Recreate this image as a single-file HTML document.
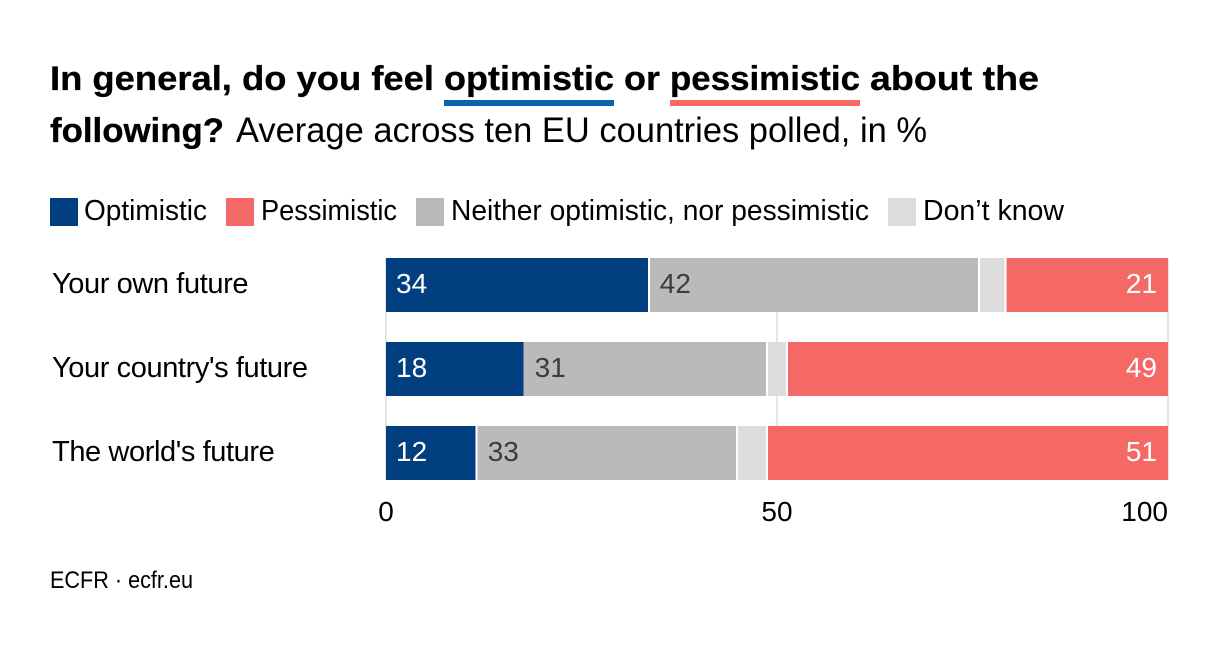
<!DOCTYPE html>
<html lang="en">
<head>
<meta charset="utf-8">
<title>ECFR chart: optimistic or pessimistic about the future</title>
<style>
  html, body { margin: 0; padding: 0; background: #fff; width: 1220px; height: 646px; overflow: hidden; }
  svg { display: block; font-family: "Liberation Sans", sans-serif; }
  text { fill: #000; }
  .bold { font-weight: 700; font-size: 34px; stroke: #000; stroke-width: .3px; }
  .sub { font-size: 35px; }
  .leg { font-size: 29px; }
  .cat { font-size: 29px; }
  .val { font-size: 28px; }
  .tick { font-size: 28px; }
  .foot { font-size: 24px; }
</style>
</head>
<body>
<svg id="chart" width="1220" height="646" viewBox="0 0 1220 646" xmlns="http://www.w3.org/2000/svg">
  <rect width="1220" height="646" fill="#fff"/>
  <g>
    <text class="bold" x="50" y="90" textLength="384" lengthAdjust="spacingAndGlyphs">In general, do you feel</text>
    <text class="bold" x="444" y="90" textLength="170" lengthAdjust="spacingAndGlyphs">optimistic</text>
    <rect x="444" y="100" width="170" height="6" fill="#0a64ad"/>
    <text class="bold" x="624" y="90" textLength="36" lengthAdjust="spacingAndGlyphs">or</text>
    <text class="bold" x="670" y="90" textLength="190" lengthAdjust="spacingAndGlyphs">pessimistic</text>
    <rect x="670" y="100" width="190" height="6" fill="#f46866"/>
    <text class="bold" x="870" y="90" textLength="169" lengthAdjust="spacingAndGlyphs">about the</text>
    <text class="bold" x="50" y="142" textLength="174" lengthAdjust="spacingAndGlyphs">following?</text>
    <text class="sub" x="236" y="142" textLength="691" lengthAdjust="spacingAndGlyphs">Average across ten EU countries polled, in %</text>
  </g>
  <g>
    <g>
      <rect x="50" y="198" width="28" height="28" fill="#013f80"/>
      <text class="leg" x="84" y="220" textLength="123" lengthAdjust="spacingAndGlyphs">Optimistic</text>
    </g>
    <g>
      <rect x="226" y="198" width="28" height="28" fill="#f46866"/>
      <text class="leg" x="261" y="220" textLength="136" lengthAdjust="spacingAndGlyphs">Pessimistic</text>
    </g>
    <g>
      <rect x="416" y="198" width="28" height="28" fill="#bababa"/>
      <text class="leg" x="451" y="220" textLength="418" lengthAdjust="spacingAndGlyphs">Neither optimistic, nor pessimistic</text>
    </g>
    <g>
      <rect x="888" y="198" width="28" height="28" fill="#dcdcdc"/>
      <text class="leg" x="923" y="220" textLength="141" lengthAdjust="spacingAndGlyphs">Don’t know</text>
    </g>
  </g>
  <g id="grid"></g>
  <g id="rows"></g>
  <g id="ticks"></g>
  <text class="foot" x="50" y="588" textLength="143" lengthAdjust="spacingAndGlyphs">ECFR · ecfr.eu</text>
</svg>
<script>
const categories = ["Your own future", "Your country's future", "The world's future"];
const optimistic = [33.6, 17.6, 11.6];
const neither = [42.2, 31.1, 33.3];
const dontKnow = [3.4, 2.6, 3.8];
const pessimistic = [20.8, 48.7, 51.3];
const xTicks = [0, 50, 100];

const NS = "http://www.w3.org/2000/svg";
const plotLeft = 386, plotRight = 1168, xMax = 100;
const firstBarTop = 258, rowStep = 84, barHeight = 54, gap = 1;
const gridTop = 258, gridBottom = 480;
const x = v => plotLeft + (v / xMax) * (plotRight - plotLeft);
const rowY = i => firstBarTop + i * rowStep;
/* The reference shows no white seam after the first segment of the second row. */
const seamlessFirstJoinRow = 1;

function el(tag, attrs, parent, text) {
  const node = document.createElementNS(NS, tag);
  for (const k in attrs) node.setAttribute(k, attrs[k]);
  if (text !== undefined) node.textContent = text;
  parent.appendChild(node);
  return node;
}

const grid = document.getElementById("grid");
const ticks = document.getElementById("ticks");
xTicks.forEach((t, i) => {
  const line = el("line", { x1: x(t), x2: x(t), y1: gridTop, y2: gridBottom, stroke: "#e6e6e6", "stroke-width": 2 }, grid);
  
  
  const anchor = i === xTicks.length - 1 ? "end" : "middle";
  const label = el("text", { class: "tick", x: x(t), y: 521, "text-anchor": anchor }, ticks, String(t));
  
  
});

const series = [
  { key: "optimistic", values: optimistic, fill: "#013f80", label: "#fff", labelled: true },
  { key: "neither", values: neither, fill: "#bababa", label: "#3c3c3c", labelled: true },
  { key: "dont-know", values: dontKnow, fill: "#dcdcdc", label: "#3c3c3c", labelled: false },
  { key: "pessimistic", values: pessimistic, fill: "#f46866", label: "#fff", labelled: true, alignEnd: true }
];

const rows = document.getElementById("rows");
categories.forEach((cat, r) => {
  const y = rowY(r);
  const g = el("g", {}, rows);
  
  

  const catLabel = el("text", { class: "cat", x: 52, y: y + 35, style: "letter-spacing:-0.4px" }, g, cat);
  
  

  let acc = 0;
  series.forEach((s, j) => {
    const v = s.values[r];
    const startV = acc;
    acc += v;
    const seamless = r === seamlessFirstJoinRow;
    const leftGap = j === 0 || (j === 1 && seamless) ? 0 : gap;
    const rightGap = j === series.length - 1 || (j === 0 && seamless) ? 0 : gap;
    const x0 = x(startV) + leftGap;
    const x1 = x(acc) - rightGap;
    const bar = el("rect", { x: x0, y: y, width: Math.max(0, x1 - x0), height: barHeight, fill: s.fill, "shape-rendering": "crispEdges" }, g);
    
    
    if (s.labelled) {
      const tx = s.alignEnd ? x1 - 11 : x(startV) + (j === 0 ? 10 : 11);
      const val = el("text", { class: "val", x: tx, y: y + 35, "text-anchor": s.alignEnd ? "end" : "start", style: "fill:" + s.label }, g, String(Math.round(v)));
      
      
    }
  });
});
</script>
</body>
</html>
